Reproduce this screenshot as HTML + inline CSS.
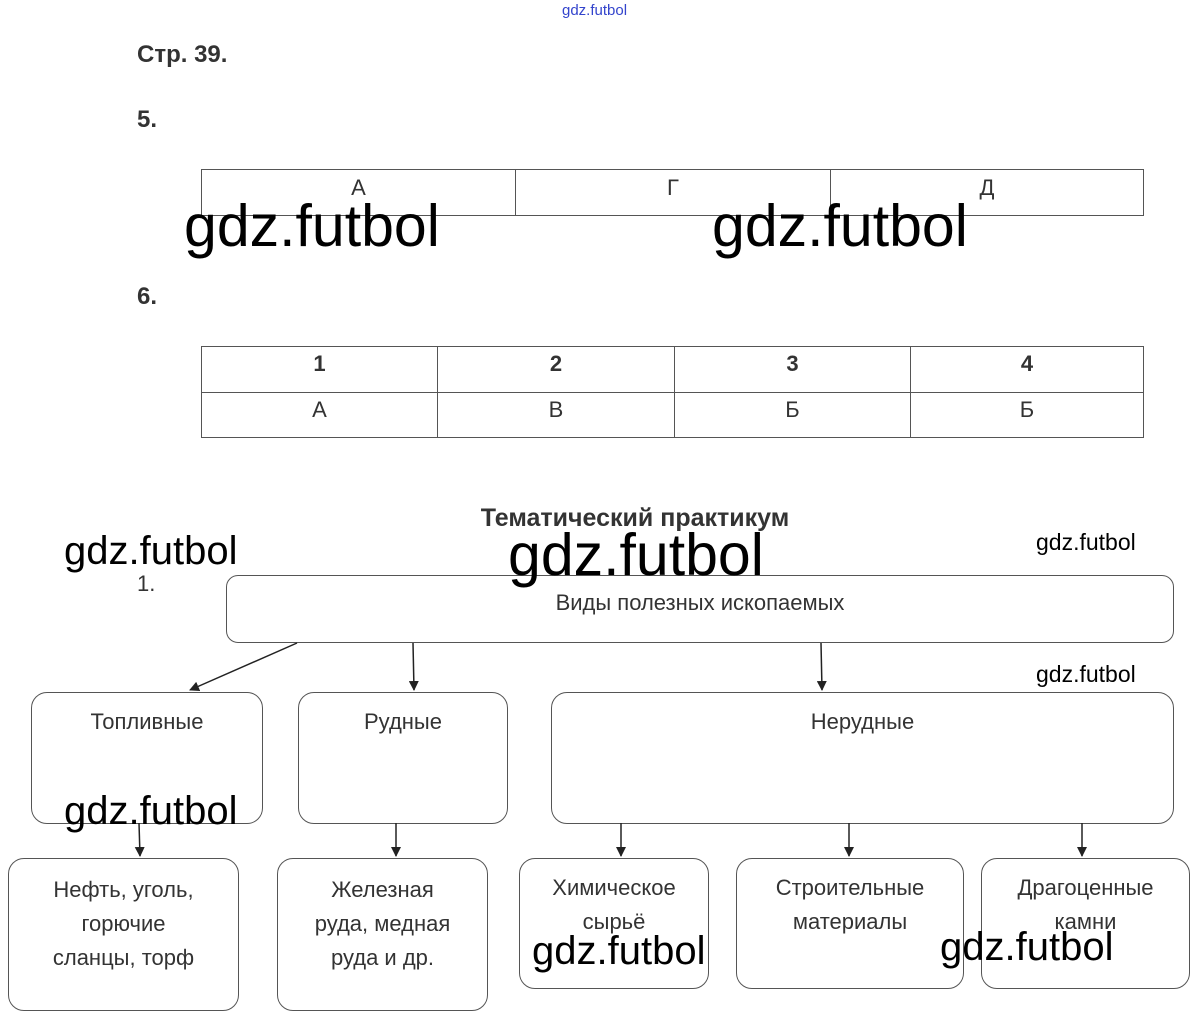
<!DOCTYPE html>
<html><head><meta charset="utf-8"><style>
body{margin:0;width:1203px;height:1025px;background:#fff;position:relative;overflow:hidden;font-family:"Liberation Sans",sans-serif;color:#333}
.a{position:absolute}
.b{position:absolute;border:1.3px solid #555;border-radius:16px;box-sizing:border-box;text-align:center;font-size:22px;line-height:34px;color:#333}
.w{position:absolute;color:#000;font-family:"Liberation Sans",sans-serif;white-space:nowrap}
table{position:absolute;border-collapse:collapse;font-size:22px;color:#333}
td{border:1.3px solid #555;text-align:center;padding:0 0 10px 0}
</style></head><body>
<div class="a" style="left:562px;top:2px;font-size:15px;color:#3344cc;">gdz.futbol</div>
<div class="a" style="left:137px;top:41px;font-size:24px;font-weight:bold;">Стр. 39.</div>
<div class="a" style="left:137px;top:106px;font-size:24px;font-weight:bold;">5.</div>
<div class="a" style="left:137px;top:283px;font-size:24px;font-weight:bold;">6.</div>
<table style="left:201px;top:169px;width:943px;height:47px"><tr><td style="width:313px">А</td><td style="width:314px">Г</td><td>Д</td></tr></table>
<table style="left:201px;top:346px;width:943px;height:92px"><tr style="font-weight:bold"><td style="width:235px">1</td><td style="width:236px">2</td><td style="width:235px">3</td><td>4</td></tr><tr><td>А</td><td>В</td><td>Б</td><td>Б</td></tr></table>
<div class="a" style="left:0;width:1270px;text-align:center;top:504px;font-size:25px;font-weight:bold;">Тематический практикум</div>
<div class="a" style="left:137px;top:571px;font-size:22px;">1.</div>
<div class="b" style="left:226px;top:575px;width:948px;height:68px;border-radius:12px;padding-top:10px">Виды полезных ископаемых</div>
<div class="b" style="left:31px;top:692px;width:232px;height:132px;padding-top:12px">Топливные</div>
<div class="b" style="left:298px;top:692px;width:210px;height:132px;padding-top:12px">Рудные</div>
<div class="b" style="left:551px;top:692px;width:623px;height:132px;padding-top:12px">Нерудные</div>
<div class="b" style="left:8px;top:858px;width:231px;height:153px;padding-top:14px">Нефть, уголь,<br>горючие<br>сланцы, торф</div>
<div class="b" style="left:277px;top:858px;width:211px;height:153px;padding-top:14px">Железная<br>руда, медная<br>руда и др.</div>
<div class="b" style="left:519px;top:858px;width:190px;height:131px;padding-top:12px">Химическое<br>сырьё</div>
<div class="b" style="left:736px;top:858px;width:228px;height:131px;padding-top:12px">Строительные<br>материалы</div>
<div class="b" style="left:981px;top:858px;width:209px;height:131px;padding-top:12px">Драгоценные<br>камни</div>
<svg class="a" style="left:0;top:0" width="1203" height="1025">
<defs><marker id="m" markerWidth="10" markerHeight="10" refX="9" refY="5" orient="auto" markerUnits="userSpaceOnUse"><path d="M0,0 L10,5 L0,10z" fill="#222"/></marker></defs>
<g stroke="#222" stroke-width="1.5" marker-end="url(#m)">
<line x1="297" y1="643" x2="190" y2="690"/>
<line x1="413" y1="643" x2="414" y2="690"/>
<line x1="821" y1="643" x2="822" y2="690"/>
<line x1="139" y1="823" x2="140" y2="856"/>
<line x1="396" y1="823" x2="396" y2="856"/>
<line x1="621" y1="823" x2="621" y2="856"/>
<line x1="849" y1="823" x2="849" y2="856"/>
<line x1="1082" y1="823" x2="1082" y2="856"/>
</g></svg>
<div class="w" style="left:184px;top:192px;font-size:59px">gdz.futbol</div>
<div class="w" style="left:712px;top:192px;font-size:59px">gdz.futbol</div>
<div class="w" style="left:508px;top:521px;font-size:59px">gdz.futbol</div>
<div class="w" style="left:64px;top:529px;font-size:40px">gdz.futbol</div>
<div class="w" style="left:64px;top:789px;font-size:40px">gdz.futbol</div>
<div class="w" style="left:532px;top:929px;font-size:40px">gdz.futbol</div>
<div class="w" style="left:940px;top:925px;font-size:40px">gdz.futbol</div>
<div class="w" style="left:1036px;top:529px;font-size:23px">gdz.futbol</div>
<div class="w" style="left:1036px;top:661px;font-size:23px">gdz.futbol</div>
</body></html>
